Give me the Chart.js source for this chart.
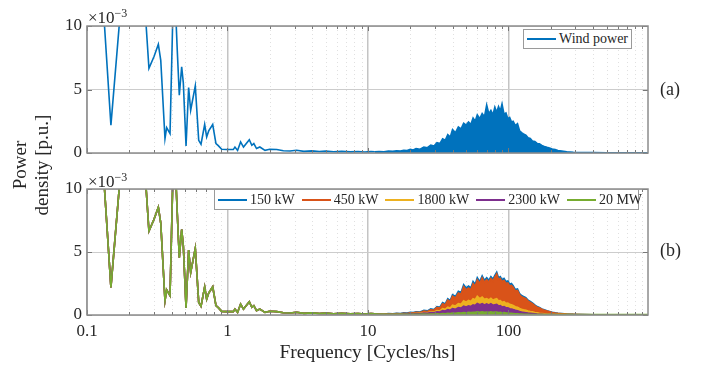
<!DOCTYPE html>
<html>
<head>
<meta charset="utf-8">
<script src="https://cdn.jsdelivr.net/npm/chart.js@4.4.1/dist/chart.umd.min.js"></script>
<style>
  body { margin:0; background:#fff; width:712px; height:366px; position:relative; overflow:hidden; font-family:"Liberation Serif", serif; color:#262626; }
  canvas { position:absolute; left:0; }
  .lbl { position:absolute; white-space:nowrap; }
  .leyenda { position:absolute; background:#fff; border:1px solid #9a9a9a; display:flex; align-items:center; font-size:14px; box-sizing:border-box; padding-left:3px; white-space:nowrap; }
  .leyenda .item { display:flex; align-items:center; flex-shrink:0; margin-right:7px; }
  .leyenda .linea { display:inline-block; flex-shrink:0; width:29px; height:2px; margin-right:3px; }
</style>
</head>
<body>
<canvas id="grafico-a" width="712" height="170" style="top:0"></canvas>
<canvas id="grafico-b" width="712" height="196" style="top:170px"></canvas>

<div class="lbl" style="left:88px;top:5px;font-size:17px;line-height:17px">×10<sup style="font-size:12px;vertical-align:6px">−3</sup></div>
<div class="lbl" style="left:88px;top:169px;font-size:17px;line-height:17px">×10<sup style="font-size:12px;vertical-align:6px">−3</sup></div>
<div class="lbl" style="left:-39px;top:143px;width:140px;height:44px;font-size:19px;line-height:22px;text-align:center;transform:rotate(-90deg)">Power<br>density [p.u.]</div>
<div class="lbl" style="left:660px;top:79px;font-size:18px">(a)</div>
<div class="lbl" style="left:660px;top:240px;font-size:18px">(b)</div>
<div id="leyenda-a" class="leyenda" style="left:523px;top:29px;width:109px;height:20px"></div>
<div id="leyenda-b" class="leyenda" style="left:214px;top:189px;width:425px;height:21px"></div>

<script>
// frecuencias en ciclos/hora, densidades en unidades de 1e-3 p.u.
const freqLow = [0.12, 0.128, 0.148, 0.17, 0.2, 0.235, 0.263, 0.276, 0.3, 0.322, 0.335, 0.359, 0.369, 0.39, 0.407, 0.418, 0.43, 0.439, 0.454, 0.472, 0.485, 0.507, 0.529, 0.547, 0.59, 0.624, 0.648, 0.688, 0.711, 0.735, 0.785, 0.828, 0.86, 0.909, 0.987, 1.1, 1.13, 1.18, 1.24, 1.3, 1.43, 1.49, 1.54, 1.61, 1.7, 1.85, 2.0, 2.24, 2.5, 2.79, 3.1, 3.5, 4.0, 4.5, 5.0, 5.7, 6.5, 7.5, 8.5, 9.5, 10.5, 11.2];
const windLow = [16, 13, 2.19, 10.2, 18, 14, 10.2, 6.66, 7.6, 8.56, 7.3, 1.13, 2.0, 1.53, 10.2, 13, 10.5, 8.1, 4.55, 6.79, 5.5, 0.55, 5.16, 3.37, 5.29, 1.0, 0.69, 2.24, 1.26, 1.74, 2.24, 0.74, 0.58, 0.29, 0.27, 0.27, 0.47, 0.2, 0.87, 0.47, 1.05, 0.61, 0.74, 0.35, 0.47, 0.21, 0.3, 0.27, 0.18, 0.16, 0.22, 0.13, 0.17, 0.12, 0.15, 0.1, 0.13, 0.09, 0.12, 0.08, 0.11, 0.1];

const freqHigh = [12, 13, 14, 15, 16, 17, 18, 19, 20, 21, 22, 23.5, 25, 26.5, 28, 29.5, 31, 32.5, 34, 35.5, 37, 38.5, 40, 42, 44, 46, 48, 50, 52, 54, 56, 58, 60, 62.5, 65, 67.5, 70, 72.5, 75, 77.5, 80, 82.5, 85, 87.5, 90, 93, 96, 99, 102, 105, 108, 112, 116, 120, 124, 128, 133, 138, 143, 148, 154, 160, 166, 173, 180, 188, 196, 205, 215, 225, 240, 260, 290, 330, 400, 500, 650, 800, 985];
const windHigh = [0.12, 0.10, 0.15, 0.13, 0.18, 0.15, 0.22, 0.19, 0.28, 0.24, 0.34, 0.30, 0.47, 0.42, 0.62, 0.55, 0.82, 0.74, 1.12, 1.0, 1.45, 1.25, 1.85, 1.6, 2.05, 1.9, 2.35, 2.2, 2.45, 2.25, 2.75, 2.5, 3.0, 2.7, 3.1, 2.85, 3.78, 3.1, 3.35, 3.0, 3.6, 3.2, 3.65, 3.3, 3.86, 3.05, 3.15, 2.7, 2.8, 2.45, 2.5, 2.15, 2.3, 1.75, 1.6, 1.5, 1.4, 1.2, 1.15, 0.95, 0.9, 0.75, 0.72, 0.6, 0.52, 0.45, 0.4, 0.32, 0.27, 0.2, 0.16, 0.1, 0.06, 0.04, 0.03, 0.025, 0.02, 0.02, 0.02];
const kw150High = [0.09, 0.08, 0.11, 0.1, 0.13, 0.12, 0.17, 0.15, 0.21, 0.19, 0.26, 0.24, 0.37, 0.33, 0.48, 0.44, 0.67, 0.62, 0.99, 0.88, 1.3, 1.15, 1.62, 1.47, 1.88, 1.78, 2.4, 2.15, 2.3, 2.15, 2.66, 2.45, 2.96, 2.65, 3.1, 2.75, 2.95, 2.75, 3.05, 2.85, 3.15, 3.4, 2.95, 3.05, 2.8, 2.9, 2.65, 2.7, 2.45, 2.5, 2.33, 2.02, 2.07, 1.7, 1.55, 1.47, 1.38, 1.17, 1.07, 0.96, 0.8, 0.67, 0.59, 0.48, 0.41, 0.34, 0.28, 0.22, 0.17, 0.14, 0.11, 0.08, 0.05, 0.03, 0.02, 0.02, 0.02, 0.02, 0.02];
const kw450High = [0.07, 0.06, 0.09, 0.08, 0.11, 0.1, 0.14, 0.12, 0.18, 0.16, 0.22, 0.2, 0.32, 0.28, 0.42, 0.38, 0.6, 0.55, 0.9, 0.8, 1.2, 1.05, 1.5, 1.35, 1.75, 1.65, 2.25, 2.0, 2.15, 2.0, 2.5, 2.3, 2.8, 2.5, 2.95, 2.6, 2.8, 2.6, 2.9, 2.7, 3.0, 3.25, 2.8, 2.9, 2.65, 2.75, 2.5, 2.55, 2.3, 2.35, 2.2, 1.9, 1.95, 1.6, 1.45, 1.38, 1.3, 1.1, 1.0, 0.9, 0.75, 0.62, 0.55, 0.45, 0.38, 0.32, 0.26, 0.2, 0.16, 0.13, 0.1, 0.07, 0.05, 0.03, 0.02, 0.02, 0.02, 0.02, 0.02];
const kw1800High = [0.05, 0.05, 0.06, 0.06, 0.07, 0.07, 0.09, 0.08, 0.11, 0.1, 0.14, 0.13, 0.2, 0.18, 0.26, 0.24, 0.35, 0.32, 0.5, 0.45, 0.62, 0.56, 0.78, 0.72, 0.9, 0.85, 1.12, 1.02, 1.15, 1.08, 1.3, 1.22, 1.48, 1.3, 1.42, 1.25, 1.3, 1.2, 1.32, 1.18, 1.25, 1.3, 1.12, 1.15, 1.0, 1.05, 0.92, 0.95, 0.85, 0.82, 0.75, 0.65, 0.62, 0.52, 0.46, 0.42, 0.38, 0.32, 0.28, 0.25, 0.2, 0.17, 0.14, 0.12, 0.1, 0.08, 0.07, 0.06, 0.05, 0.04, 0.03, 0.03, 0.02, 0.02, 0.02, 0.02, 0.02, 0.02, 0.02];
const kw2300High = [0.04, 0.04, 0.05, 0.05, 0.06, 0.06, 0.07, 0.07, 0.09, 0.08, 0.11, 0.1, 0.15, 0.14, 0.2, 0.18, 0.26, 0.24, 0.35, 0.32, 0.42, 0.38, 0.5, 0.46, 0.58, 0.55, 0.7, 0.64, 0.72, 0.68, 0.8, 0.76, 0.92, 0.82, 0.9, 0.8, 0.88, 0.8, 0.9, 0.78, 0.82, 0.85, 0.72, 0.74, 0.64, 0.66, 0.58, 0.58, 0.5, 0.48, 0.43, 0.37, 0.34, 0.28, 0.24, 0.21, 0.18, 0.15, 0.13, 0.11, 0.09, 0.07, 0.06, 0.05, 0.04, 0.04, 0.03, 0.03, 0.03, 0.02, 0.02, 0.02, 0.02, 0.02, 0.02, 0.02, 0.02, 0.02, 0.02];
const mw20High = [0.06, 0.05, 0.06, 0.05, 0.06, 0.05, 0.06, 0.05, 0.06, 0.05, 0.06, 0.06, 0.07, 0.06, 0.08, 0.07, 0.09, 0.08, 0.11, 0.1, 0.13, 0.12, 0.15, 0.14, 0.17, 0.16, 0.2, 0.18, 0.21, 0.19, 0.22, 0.21, 0.25, 0.22, 0.25, 0.22, 0.24, 0.22, 0.25, 0.21, 0.23, 0.24, 0.2, 0.21, 0.18, 0.19, 0.16, 0.16, 0.14, 0.13, 0.12, 0.1, 0.09, 0.08, 0.07, 0.06, 0.05, 0.05, 0.04, 0.04, 0.03, 0.03, 0.03, 0.03, 0.03, 0.03, 0.03, 0.03, 0.03, 0.03, 0.03, 0.03, 0.03, 0.03, 0.03, 0.03, 0.03, 0.03, 0.03];

const xTicks = [0.1, 1, 10, 100];
const yTicks = [0, 5, 10];

const freqAll = freqLow.concat(freqHigh);
const puntos = vals => freqAll.map((f, i) => ({ x: f, y: vals[i] }));

const fuente = '"Liberation Serif", serif';
const minorTicks = [];
xTicks.forEach(d => { for (let k = 2; k <= 9; k++) minorTicks.push(d * k); });

const marcoPlugin = {
    id: 'marco',
    beforeDatasetsDraw(chart) {
        const { ctx, chartArea: a, scales: { x } } = chart;
        ctx.save();
        ctx.strokeStyle = '#e0e0e0';
        ctx.lineWidth = 1;
        ctx.setLineDash([1, 3]);
        minorTicks.forEach(f => {
            const px = Math.round(x.getPixelForValue(f)) + 0.5;
            ctx.beginPath(); ctx.moveTo(px, a.top); ctx.lineTo(px, a.bottom); ctx.stroke();
        });
        ctx.restore();
    },
    afterDatasetsDraw(chart) {
        const { ctx, chartArea: a, scales: { x, y } } = chart;
        ctx.save();
        ctx.strokeStyle = '#777';
        ctx.lineWidth = 1;
        const marca = (px, largo) => {
            ctx.beginPath();
            ctx.moveTo(px, a.bottom); ctx.lineTo(px, a.bottom - largo);
            ctx.moveTo(px, a.top); ctx.lineTo(px, a.top + largo);
            ctx.stroke();
        };
        minorTicks.forEach(f => marca(Math.round(x.getPixelForValue(f)) + 0.5, 3));
        xTicks.forEach(f => marca(Math.round(x.getPixelForValue(f)) + 0.5, 5));
        yTicks.forEach(v => {
            const py = Math.round(y.getPixelForValue(v)) + 0.5;
            ctx.beginPath();
            ctx.moveTo(a.left, py); ctx.lineTo(a.left + 5, py);
            ctx.moveTo(a.right, py); ctx.lineTo(a.right - 5, py);
            ctx.stroke();
        });
        ctx.strokeStyle = '#8c8c8c';
        ctx.lineWidth = 1.5;
        ctx.strokeRect(a.left, a.top, a.right - a.left, a.bottom - a.top);
        ctx.restore();
    }
};

function serie(label, vals, color, orden) {
    return {
        label: label,
        data: puntos(vals),
        borderColor: color,
        backgroundColor: color,
        borderWidth: 1.6,
        pointRadius: 0,
        tension: 0,
        fill: 'origin',
        order: orden,
        segment: {
            backgroundColor: c => c.p0.parsed.x >= 11 ? color : 'rgba(0,0,0,0)'
        }
    };
}

function crearGrafico(id, datasets, conEtiquetas, padTop, altoX) {
    return new Chart(document.getElementById(id), {
        type: 'line',
        data: { datasets: datasets },
        plugins: [marcoPlugin],
        options: {
            responsive: false,
            animation: false,
            layout: { padding: { left: 0, right: 64, top: padTop, bottom: 0 } },
            plugins: { legend: { display: false }, tooltip: { enabled: false } },
            scales: {
                x: {
                    type: 'logarithmic',
                    min: 0.1,
                    max: 985,
                    afterBuildTicks: s => { s.ticks = xTicks.map(v => ({ value: v })); },
                    afterFit: s => { s.height = altoX; },
                    grid: { color: '#c4c4c4', lineWidth: 1.5, drawTicks: false },
                    border: { display: false },
                    ticks: {
                        display: conEtiquetas,
                        font: { family: fuente, size: 17 },
                        color: '#262626',
                        padding: 6,
                        maxRotation: 0,
                        autoSkip: false,
                        callback: v => String(v)
                    },
                    title: {
                        display: conEtiquetas,
                        text: 'Frequency [Cycles/hs]',
                        font: { family: fuente, size: 19.5 },
                        color: '#262626',
                        padding: { top: 0, bottom: 1 }
                    }
                },
                y: {
                    min: 0,
                    max: 10,
                    afterBuildTicks: s => { s.ticks = yTicks.map(v => ({ value: v })); },
                    afterFit: s => { s.width = 87; },
                    grid: { color: '#cccccc', lineWidth: 1, drawTicks: false },
                    border: { display: false },
                    ticks: {
                        font: { family: fuente, size: 17 },
                        color: '#262626',
                        padding: 5,
                        callback: v => String(v)
                    }
                }
            }
        }
    });
}

function pintarLeyenda(chart, el) {
    chart.data.datasets.forEach(ds => {
        const item = document.createElement('span');
        item.className = 'item';
        item.innerHTML = `<span class="linea" style="background:${ds.borderColor}"></span>${ds.label}`;
        el.appendChild(item);
    });
}

const graficoA = crearGrafico('grafico-a', [
    serie('Wind power', windLow.concat(windHigh), '#0072BD', 1)
], false, 26, 17);

const graficoB = crearGrafico('grafico-b', [
    serie('150 kW', windLow.concat(kw150High), '#0072BD', 5),
    serie('450 kW', windLow.concat(kw450High), '#D95319', 4),
    serie('1800 kW', windLow.concat(kw1800High), '#EDB120', 3),
    serie('2300 kW', windLow.concat(kw2300High), '#7E2F8E', 2),
    serie('20 MW', windLow.concat(mw20High), '#77AC30', 1)
], true, 19, 51);

pintarLeyenda(graficoA, document.getElementById('leyenda-a'));
pintarLeyenda(graficoB, document.getElementById('leyenda-b'));
</script>
</body>
</html>
